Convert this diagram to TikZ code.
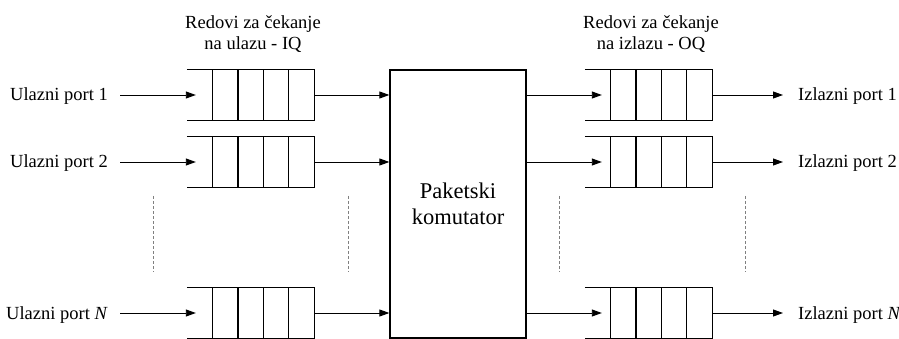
\documentclass[tikz,border=0pt]{standalone}
\usepackage{fontspec}
\setmainfont{Liberation Serif}
\usetikzlibrary{arrows.meta,calc}

\tikzset{
  every node/.style={font=\fontsize{18.5}{21}\selectfont, inner sep=0pt},
  queuebox/.style={minimum width=127pt, minimum height=50pt, draw=none},
  switchbox/.style={draw, line width=1.3pt, minimum width=136pt, minimum height=268pt,
    align=center, font=\fontsize{22.5}{26}\selectfont},
  qline/.style={line width=1.3pt},
  arr/.style={line width=0.9pt, -{Triangle[length=10pt,width=7pt]}},
  dots/.style={gray, line width=0.8pt, dash pattern=on 3pt off 2pt},
  title/.style={align=center}
}

% queue with an open left end and five slots on the right
\newcommand{\queueslots}[1]{%
  \draw[qline] (#1.north west) -- (#1.north east) -- (#1.south east) -- (#1.south west);
  \foreach \k in {0,1,2,3}
    \draw[qline] ($(#1.north west)+(26+\k*25.25,0)$) -- ($(#1.south west)+(26+\k*25.25,0)$);
}

\begin{document}
\begin{tikzpicture}[x=1pt,y=-1pt]
\useasboundingbox (0,0) rectangle (899,339);

% titles
\node[title] (tin)  at (253,34) {Redovi za čekanje\\na ulazu - IQ};
\node[title] (tout) at (651,34) {Redovi za čekanje\\na izlazu - OQ};

% packet switch
\node[switchbox] (sw) at (458,204) {Paketski\\komutator};

% input queues
\node[queuebox] (iq1) at (250.5,95) {};
\node[queuebox] (iq2) at (250.5,162) {};
\node[queuebox] (iqN) at (250.5,313) {};
% output queues
\node[queuebox] (oq1) at (648.5,95) {};
\node[queuebox] (oq2) at (648.5,162) {};
\node[queuebox] (oqN) at (648.5,313) {};

\queueslots{iq1}\queueslots{iq2}\queueslots{iqN}
\queueslots{oq1}\queueslots{oq2}\queueslots{oqN}

% port labels
\node[anchor=base east] (in1) at (108,101) {Ulazni port 1};
\node[anchor=base east] (in2) at (108,168) {Ulazni port 2};
\node[anchor=base east] (inN) at (108,319) {Ulazni port \textit{N}};
\node[anchor=base west] (out1) at (798,101) {Izlazni port 1};
\node[anchor=base west] (out2) at (798,168) {Izlazni port 2};
\node[anchor=base west] (outN) at (798,319) {Izlazni port \textit{N}};

% connectors
\foreach \r in {1,2,N}{
  \draw[arr] ($(in\r.east |- iq\r.west)+(12,0)$) -- ($(iq\r.west)+(9,0)$);
  \draw[arr] (iq\r.east) -- (iq\r.east -| sw.west);
  \draw[arr] (oq\r.west -| sw.east) -- ($(oq\r.west)+(17,0)$);
  \draw[arr] (oq\r.east) -- ($(out\r.west |- oq\r.east)+(-15,0)$);
}

% continuation marks between port 2 and port N
\coordinate (d1t) at (153,196); \coordinate (d1b) at (153,272);
\coordinate (d2t) at (348,196); \coordinate (d2b) at (348,272);
\coordinate (d3t) at (559,196); \coordinate (d3b) at (559,272);
\coordinate (d4t) at (745.5,196); \coordinate (d4b) at (745.5,272);
\foreach \d in {1,2,3,4} \draw[dots] (d\d t) -- (d\d b);
\end{tikzpicture}
\end{document}
